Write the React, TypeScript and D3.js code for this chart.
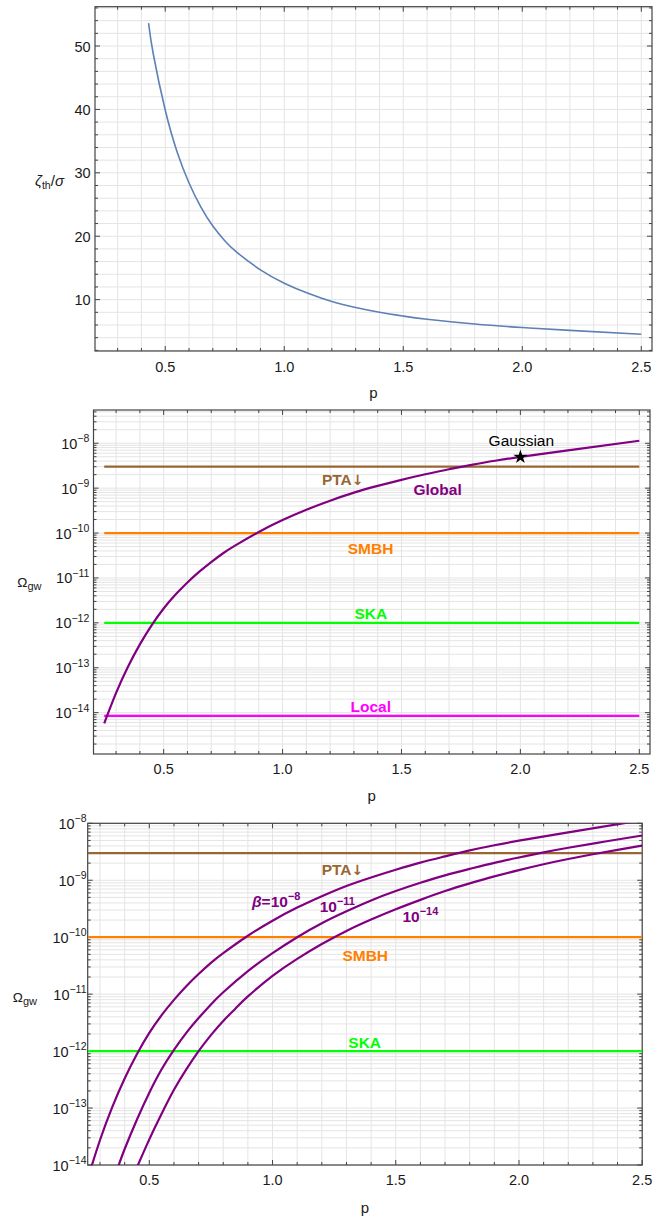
import React from "react";
import * as d3 from "d3";

// ---------- Panel 1: zeta_th / sigma vs p ----------
const zetaP = [0.43, 0.45, 0.5, 0.55, 0.6, 0.65, 0.7, 0.75, 0.8, 0.9, 1.0, 1.1, 1.2, 1.3, 1.4, 1.5, 1.6, 1.8, 2.0, 2.2, 2.5];
const zetaRatio = [53.6, 48.7, 39.9, 33.3, 28.4, 24.6, 21.6, 19.3, 17.5, 14.7, 12.6, 11.0, 9.7, 8.75, 8.0, 7.4, 6.9, 6.15, 5.6, 5.15, 4.55];

// ---------- Panel 2 / 3: Omega_gw vs p ----------
// Global (beta = 1e-8)
const globalP = [0.25, 0.3, 0.35, 0.4, 0.45, 0.5, 0.55, 0.6, 0.65, 0.7, 0.75, 0.8, 0.9, 1.0, 1.1, 1.2, 1.3, 1.4, 1.5, 1.6, 1.7, 1.8, 1.9, 2.0, 2.2, 2.5];
const globalOmega = [5.75e-15, 2.75e-14, 1.05e-13, 3.31e-13, 8.91e-13, 2.09e-12, 4.27e-12, 7.94e-12, 1.38e-11, 2.26e-11, 3.55e-11, 5.25e-11, 1.06e-10, 1.95e-10, 3.31e-10, 5.25e-10, 7.94e-10, 1.12e-9, 1.53e-9, 2.04e-9, 2.63e-9, 3.35e-9, 4.12e-9, 4.95e-9, 6.92e-9, 1.135e-8];
// beta = 1e-11
const beta11P = [0.36, 0.376, 0.4, 0.45, 0.5, 0.55, 0.6, 0.65, 0.7, 0.75, 0.8, 0.9, 1.0, 1.1, 1.2, 1.3, 1.4, 1.5, 1.6, 1.7, 1.8, 1.9, 2.0, 2.1, 2.2, 2.35, 2.5];
const beta11Omega = [6.46e-15, 1.0e-14, 1.91e-14, 6.31e-14, 1.86e-13, 4.79e-13, 1.05e-12, 2.09e-12, 3.8e-12, 6.61e-12, 1.08e-11, 2.54e-11, 5.25e-11, 1.0e-10, 1.76e-10, 2.85e-10, 4.42e-10, 6.46e-10, 9.02e-10, 1.22e-9, 1.58e-9, 2.02e-9, 2.51e-9, 3.09e-9, 3.72e-9, 4.79e-9, 6.1e-9];
// beta = 1e-14
const beta14P = [0.44, 0.454, 0.5, 0.55, 0.6, 0.65, 0.7, 0.75, 0.8, 0.85, 0.9, 1.0, 1.1, 1.2, 1.3, 1.4, 1.5, 1.6, 1.7, 1.8, 1.9, 2.0, 2.1, 2.2, 2.3, 2.4, 2.5];
const beta14Omega = [7.24e-15, 1.0e-14, 2.82e-14, 7.94e-14, 2.09e-13, 4.79e-13, 1.0e-12, 1.91e-12, 3.39e-12, 5.62e-12, 9.12e-12, 2.09e-11, 4.17e-11, 7.59e-11, 1.29e-10, 2.04e-10, 3.09e-10, 4.52e-10, 6.46e-10, 8.81e-10, 1.17e-9, 1.51e-9, 1.91e-9, 2.36e-9, 2.86e-9, 3.42e-9, 4.06e-9];

// detector sensitivity levels
const detectorNames = ["PTA", "SMBH", "SKA", "Local"];
const detectorOmega = [3e-9, 1e-10, 1e-12, 8.5e-15];
const detectorColors = ["#996633", "#FF8000", "#00FF00", "#FF00FF"];
const lineRange = [0.25, 2.5];

// Gaussian marker
const gaussianP = 2.0;
const gaussianOmega = 4.95e-9;

// label anchors (data coordinates: center p, baseline Omega)
const panel2LabelP = [1.253, 1.37, 1.371, 1.371];
const panel2LabelOmega = [1.18e-9, 3.42e-11, 1.22e-12, 1.02e-14];
const panel3LabelP = [1.284, 1.376, 1.374];
const panel3LabelOmega = [1.24e-9, 3.86e-11, 1.12e-12];
const betaLabelExp = ["−8", "−11", "−14"];
const betaLabelP = [1.015, 1.263, 1.6];
const betaLabelOmega = [3.44e-10, 2.74e-10, 1.87e-10];

const FONT = "'Liberation Sans', Arial, Helvetica, sans-serif";
const PURPLE = "#800080";
const FRAME = "#444";
const GRID = "#e4e4e4";
const TXT = "#1a1a1a";

type Sc = any;

const near = (a: number, b: number) => Math.abs(a - b) <= 1e-6 * Math.max(Math.abs(a), Math.abs(b));

function Frame({ x, y, xMinor, xMajor, yMinor, yMajor }: { x: Sc; y: Sc; xMinor: number[]; xMajor: number[]; yMinor: number[]; yMajor: number[] }) {
  const [x0, x1] = x.range();
  const [yb, yt] = y.range();
  const isMaj = (arr: number[], v: number) => arr.some((m) => near(m, v));
  const LM = 5, Lm = 3;
  return (
    <g>
      {xMinor.map((t, i) => (
        <line key={"gx" + i} x1={x(t)} x2={x(t)} y1={yt} y2={yb} stroke={GRID} strokeWidth={1} />
      ))}
      {yMinor.map((t, i) => (
        <line key={"gy" + i} x1={x0} x2={x1} y1={y(t)} y2={y(t)} stroke={GRID} strokeWidth={1} />
      ))}
      {xMinor.map((t, i) => {
        const L = isMaj(xMajor, t) ? LM : Lm;
        return (
          <g key={"tx" + i}>
            <line x1={x(t)} x2={x(t)} y1={yb} y2={yb - L} stroke={FRAME} strokeWidth={1} />
            <line x1={x(t)} x2={x(t)} y1={yt} y2={yt + L} stroke={FRAME} strokeWidth={1} />
          </g>
        );
      })}
      {yMinor.map((t, i) => {
        const L = isMaj(yMajor, t) ? LM : Lm;
        return (
          <g key={"ty" + i}>
            <line x1={x0} x2={x0 + L} y1={y(t)} y2={y(t)} stroke={FRAME} strokeWidth={1} />
            <line x1={x1} x2={x1 - L} y1={y(t)} y2={y(t)} stroke={FRAME} strokeWidth={1} />
          </g>
        );
      })}
      <rect x={x0} y={yt} width={x1 - x0} height={yb - yt} fill="none" stroke={FRAME} strokeWidth={1.2} />
    </g>
  );
}

function XLabels({ x, ticks, yBase, titleY }: { x: Sc; ticks: number[]; yBase: number; titleY: number }) {
  const [x0, x1] = x.range();
  const f = d3.format(".1f");
  return (
    <g fontFamily={FONT} fontSize={14.5} fill={TXT}>
      {ticks.map((t, i) => (
        <text key={i} x={x(t)} y={yBase} textAnchor="middle">{f(t)}</text>
      ))}
      <text x={(x0 + x1) / 2} y={titleY} textAnchor="middle" fontSize={15}>p</text>
    </g>
  );
}

function LogYLabels({ y, ticks, xRight }: { y: Sc; ticks: number[]; xRight: number }) {
  return (
    <g fontFamily={FONT} fontSize={14.5} fill={TXT}>
      {ticks.map((t, i) => (
        <text key={i} x={xRight} y={y(t) + 5.5} textAnchor="end">
          10<tspan fontSize={10.5} dy={-6.5}>{"−" + Math.round(-Math.log10(t))}</tspan>
        </text>
      ))}
    </g>
  );
}

function majorLog(ticks: number[]) {
  return ticks.filter((t) => Math.abs(Math.log10(t) - Math.round(Math.log10(t))) < 1e-6);
}

function Arrow() {
  return <tspan fontFamily="'DejaVu Sans', sans-serif" fontSize={14}>↓</tspan>;
}

export default function App() {
  // ----- Panel 1 -----
  const x1s = d3.scaleLinear().domain([0.205, 2.545]).range([95, 652]);
  const y1s = d3.scaleLinear().domain([1.9, 56.2]).range([351, 6.7]);
  const x1Minor = x1s.ticks(25);
  const x1Major = x1s.ticks(5);
  const y1Minor = y1s.ticks(25);
  const y1Major = y1s.ticks(5);
  const zetaLine = d3
    .line<number>()
    .x((_, i) => x1s(zetaP[i]))
    .y((d) => y1s(d))
    .curve(d3.curveNatural);

  // ----- Panel 2 -----
  const x2s = d3.scaleLinear().domain([0.205, 2.545]).range([93.5, 650]);
  const y2s = d3.scaleLog().domain([1.2e-15, 5.5e-8]).range([754, 410]);
  const x2Minor = x2s.ticks(25);
  const x2Major = x2s.ticks(5);
  const y2Minor = y2s.ticks();
  const y2Major = majorLog(y2Minor);
  const omegaLine2 = (ps: number[]) =>
    d3
      .line<number>()
      .x((_, i) => x2s(ps[i]))
      .y((d) => y2s(d))
      .curve(d3.curveNatural);

  // ----- Panel 3 -----
  const x3s = d3.scaleLinear().domain([0.25, 2.5]).range([87.7, 642.2]);
  const y3s = d3.scaleLog().domain([1e-14, 1e-8]).range([1165, 823.3]);
  const x3Minor = x3s.ticks(25);
  const x3Major = x3s.ticks(5);
  const y3Minor = y3s.ticks();
  const y3Major = majorLog(y3Minor);
  const omegaLine3 = (ps: number[]) =>
    d3
      .line<number>()
      .x((_, i) => x3s(ps[i]))
      .y((d) => y3s(d))
      .curve(d3.curveNatural);

  const star = d3.symbol().type(d3.symbolStar).size(62)() as string;

  const boldLabel = { fontFamily: FONT, fontWeight: 700, fontSize: 15.5 } as const;

  return (
    <svg
      width={672}
      height={1220}
      viewBox="0 0 672 1220"
      style={{ position: "absolute", left: 0, top: 0, background: "#fff" }}
    >
      <defs>
        <clipPath id="clip2">
          <rect x={93.5} y={410} width={650 - 93.5} height={754 - 410} />
        </clipPath>
        <clipPath id="clip3">
          <rect x={87.7} y={823.3} width={642.2 - 87.7} height={1165 - 823.3} />
        </clipPath>
      </defs>
      <rect x={0} y={0} width={672} height={1220} fill="#fff" />

      {/* ================= Panel 1 ================= */}
      <Frame x={x1s} y={y1s} xMinor={x1Minor} xMajor={x1Major} yMinor={y1Minor} yMajor={y1Major} />
      <path d={zetaLine(zetaRatio) || ""} fill="none" stroke="#5E81B5" strokeWidth={1.6} />
      <g fontFamily={FONT} fontSize={14.5} fill={TXT}>
        {y1Major.map((t, i) => (
          <text key={i} x={90.7} y={y1s(t) + 5.5} textAnchor="end">{t}</text>
        ))}
      </g>
      <XLabels x={x1s} ticks={x1Major} yBase={371.5} titleY={398} />
      <text x={35} y={186} fontFamily={FONT} fontSize={15} fill={TXT}>
        <tspan fontStyle="italic">ζ</tspan>
        <tspan fontSize={10.5} dy={3}>th</tspan>
        <tspan dy={-3}>/</tspan>
        <tspan fontStyle="italic">σ</tspan>
      </text>

      {/* ================= Panel 2 ================= */}
      <Frame x={x2s} y={y2s} xMinor={x2Minor} xMajor={x2Major} yMinor={y2Minor} yMajor={y2Major} />
      <g clipPath="url(#clip2)">
        {detectorOmega.map((v, i) => (
          <line key={i} x1={x2s(lineRange[0])} x2={x2s(lineRange[1])} y1={y2s(v)} y2={y2s(v)} stroke={detectorColors[i]} strokeWidth={2.2} />
        ))}
        <path d={omegaLine2(globalP)(globalOmega) || ""} fill="none" stroke={PURPLE} strokeWidth={2.2} />
        <path d={star} transform={`translate(${x2s(gaussianP)},${y2s(gaussianOmega)})`} fill="#000" />
      </g>
      <g {...boldLabel}>
        {detectorNames.map((n, i) => (
          <text key={i} x={x2s(panel2LabelP[i])} y={y2s(panel2LabelOmega[i])} textAnchor="middle" fill={detectorColors[i]}>
            {n}
            {i === 0 ? <Arrow /> : null}
          </text>
        ))}
        <text x={x2s(1.652)} y={y2s(7.06e-10)} textAnchor="middle" fill={PURPLE}>Global</text>
      </g>
      <text x={x2s(2.004)} y={y2s(8.7e-9)} textAnchor="middle" fontFamily={FONT} fontSize={15.5} fill="#000">Gaussian</text>
      <LogYLabels y={y2s} ticks={y2Major} xRight={89.3} />
      <XLabels x={x2s} ticks={x2Major} yBase={773.5} titleY={801} />
      <text x={17.3} y={586.7} fontFamily={FONT} fontSize={13.5} fill={TXT}>
        Ω<tspan fontSize={11} dy={3.5}>gw</tspan>
      </text>

      {/* ================= Panel 3 ================= */}
      <Frame x={x3s} y={y3s} xMinor={x3Minor} xMajor={x3Major} yMinor={y3Minor} yMajor={y3Major} />
      <g clipPath="url(#clip3)">
        {detectorOmega.slice(0, 3).map((v, i) => (
          <line key={i} x1={x3s(lineRange[0])} x2={x3s(lineRange[1])} y1={y3s(v)} y2={y3s(v)} stroke={detectorColors[i]} strokeWidth={2.2} />
        ))}
        <path d={omegaLine3(globalP)(globalOmega) || ""} fill="none" stroke={PURPLE} strokeWidth={2.2} />
        <path d={omegaLine3(beta11P)(beta11Omega) || ""} fill="none" stroke={PURPLE} strokeWidth={2.2} />
        <path d={omegaLine3(beta14P)(beta14Omega) || ""} fill="none" stroke={PURPLE} strokeWidth={2.2} />
      </g>
      <g {...boldLabel}>
        {panel3LabelP.map((p, i) => (
          <text key={i} x={x3s(p)} y={y3s(panel3LabelOmega[i])} textAnchor="middle" fill={detectorColors[i]}>
            {detectorNames[i]}
            {i === 0 ? <Arrow /> : null}
          </text>
        ))}
        {betaLabelP.map((p, i) => (
          <text key={"b" + i} x={x3s(p)} y={y3s(betaLabelOmega[i])} textAnchor="middle" fill={PURPLE}>
            {i === 0 ? <tspan fontStyle="italic">β</tspan> : null}
            {i === 0 ? "=10" : "10"}
            <tspan fontSize={11} dy={-7}>{betaLabelExp[i]}</tspan>
          </text>
        ))}
      </g>
      <LogYLabels y={y3s} ticks={y3Major} xRight={86.5} />
      <XLabels x={x3s} ticks={x3Major} yBase={1185} titleY={1213} />
      <text x={12.8} y={1001.7} fontFamily={FONT} fontSize={13.5} fill={TXT}>
        Ω<tspan fontSize={11} dy={3.5}>gw</tspan>
      </text>
    </svg>
  );
}
